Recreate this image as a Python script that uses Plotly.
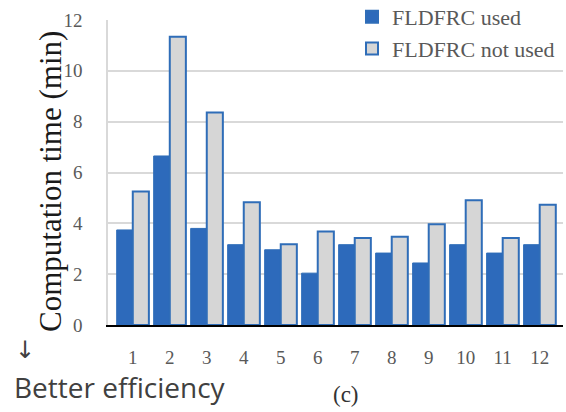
import plotly.graph_objects as go

categories = [str(i) for i in range(1, 13)]
fldfrc_used = [3.74, 6.65, 3.80, 3.16, 2.96, 2.04, 3.16, 2.83, 2.44, 3.16, 2.83, 3.16]
fldfrc_not_used = [5.25, 11.34, 8.36, 4.83, 3.18, 3.68, 3.42, 3.47, 3.96, 4.91, 3.42, 4.73]
y_ticks = [0, 2, 4, 6, 8, 10, 12]

BLUE = "#2D6ABB"
OUTLINE = "#2F6DB8"
GREY = "#D6D6D6"
SERIF = "Liberation Serif"
TXT = "#595959"

fig = go.Figure()
fig.add_trace(go.Bar(x=categories, y=fldfrc_used, name="FLDFRC used",
                     marker=dict(color=BLUE, line=dict(color=OUTLINE, width=1))))
fig.add_trace(go.Bar(x=categories, y=fldfrc_not_used, name="FLDFRC not used",
                     marker=dict(color=GREY, line=dict(color=OUTLINE, width=2))))

L, R, T, B = 108, 3, 20, 87
W = 566 - L - R
H = 412 - T - B
fig.update_layout(
    width=566, height=412,
    margin=dict(l=L, r=R, t=T, b=B, pad=0, autoexpand=False),
    paper_bgcolor="white", plot_bgcolor="white",
    barmode="group", bargap=0.13, bargroupgap=0.0,
    font=dict(family=SERIF, color=TXT, size=19),
    showlegend=True,
    legend=dict(x=(352 - L) / W, y=1 + (T + 4) / H, xanchor="left", yanchor="top",
                bgcolor="rgba(255,255,255,0)", font=dict(family=SERIF, size=22, color=TXT),
                itemsizing="constant", tracegroupgap=0, itemwidth=30),
    xaxis=dict(type="category", range=[-0.67, 11.63], showgrid=False, automargin=False,
               showline=True, linecolor="black", linewidth=2,
               ticks="", ticklabelstandoff=14,
               tickfont=dict(family=SERIF, size=19, color=TXT)),
    yaxis=dict(range=[0, 12], tickvals=y_ticks, showgrid=True, automargin=False,
               gridcolor="#D9D9D9", gridwidth=1.5, zeroline=False,
               showline=True, linecolor="#D9D9D9", linewidth=1.5,
               ticks="", ticklabelstandoff=20,
               tickfont=dict(family=SERIF, size=19, color=TXT)),
)

def note(text, px, py, size, family, color, angle=0, xanchor="center"):
    fig.add_annotation(text=text, xref="paper", yref="paper",
                       x=(px - L) / W, y=(325 - py) / H,
                       xanchor=xanchor, yanchor="middle", textangle=angle,
                       showarrow=False, font=dict(family=family, size=size, color=color))

note("Computation time (min)", 50, 182, 31, SERIF, "#1a1a1a", angle=-90)
note("↓", 25, 350, 24, "DejaVu Sans", "#404040")
note("Better efficiency", 12, 387, 28, "Open Sans", "#404040", xanchor="left")
note("(c)", 346, 394, 23, SERIF, "#333333")

fig.write_html("out.html", post_script="document.body.style.margin='0';",
               config={"displayModeBar": False})
